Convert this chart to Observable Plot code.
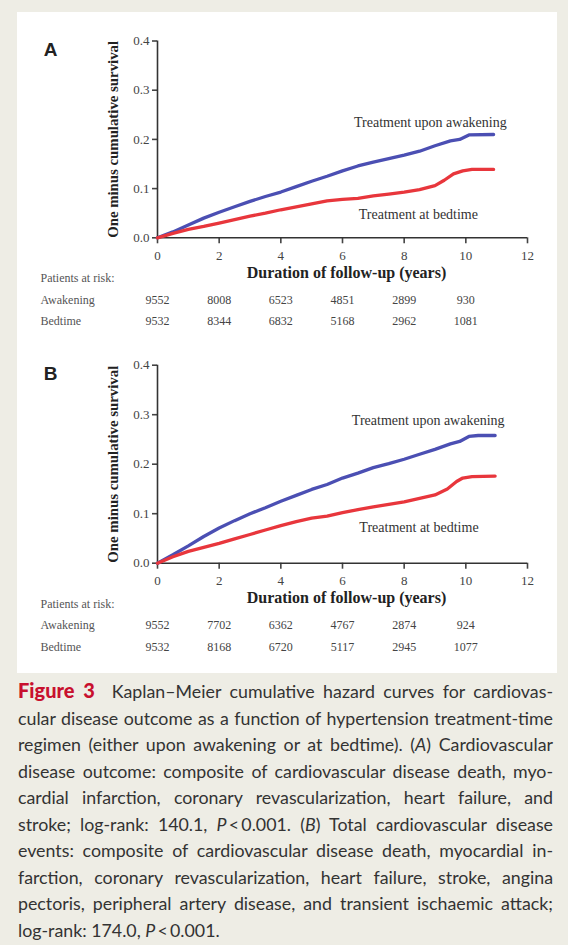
<!DOCTYPE html>
<html>
<head>
<meta charset="utf-8">
<script src="https://cdn.jsdelivr.net/npm/d3@7"></script>
<script src="https://cdn.jsdelivr.net/npm/@observablehq/plot@0.6"></script>
<style>
  html, body { margin: 0; padding: 0; }
  body { width: 568px; height: 945px; background: #eeede5; position: relative; overflow: hidden; }
  #panel { position: absolute; left: 17px; top: 12px; width: 540px; height: 661px; background: #ffffff; }
  .plot { position: absolute; left: 0; }
  #caption { position: absolute; left: 18px; top: 677px; width: 535px; font-family: Lato, "Open Sans", sans-serif; font-size: 17.8px; line-height: 26.5px; color: #333; }
  #caption div { text-align: justify; text-align-last: justify; }
  #caption div.last { text-align-last: left; }
  #caption b { color: #c8102e; font-weight: 900; font-size: 20px; }
</style>
</head>
<body>
<div id="panel"></div>
<div id="plotA" class="plot" style="top:0px"></div>
<div id="plotB" class="plot" style="top:340px"></div>
<div id="caption">
  <div><b>Figure 3</b>&nbsp; Kaplan–Meier cumulative hazard curves for cardiovas-</div>
  <div>cular disease outcome as a function of hypertension treatment-time</div>
  <div>regimen (either upon awakening or at bedtime). (<i>A</i>) Cardiovascular</div>
  <div>disease outcome: composite of cardiovascular disease death, myo-</div>
  <div>cardial infarction, coronary revascularization, heart failure, and</div>
  <div>stroke; log-rank: 140.1, <i>P</i>&thinsp;&lt;&thinsp;0.001. (<i>B</i>) Total cardiovascular disease</div>
  <div>events: composite of cardiovascular disease death, myocardial in-</div>
  <div>farction, coronary revascularization, heart failure, stroke, angina</div>
  <div>pectoris, peripheral artery disease, and transient ischaemic attack;</div>
  <div class="last">log-rank: 174.0, <i>P</i>&thinsp;&lt;&thinsp;0.001.</div>
</div>
<script>
// ---------- Data ----------
const xTicks = [0, 2, 4, 6, 8, 10, 12];
const yTicks = [0, 0.1, 0.2, 0.3, 0.4];
const xTitle = "Duration of follow-up (years)";
const yTitle = "One minus cumulative survival";
const seriesNames = ["Treatment upon awakening", "Treatment at bedtime"];
const riskHeader = "Patients at risk:";
const riskRowNames = ["Awakening", "Bedtime"];
const riskTimes = [0, 2, 4, 6, 8, 10];

// Panel A
const tA_awake = [0,0.5,1,1.5,2,2.5,3,3.5,4,4.5,5,5.5,6,6.5,7,7.5,8,8.5,9,9.5,9.8,10.1,10.9];
const yA_awake = [0,0.012,0.026,0.040,0.052,0.063,0.074,0.084,0.093,0.104,0.115,0.125,0.136,0.146,0.154,0.161,0.168,0.176,0.187,0.197,0.200,0.209,0.210];
const tA_bed = [0,0.5,1,1.5,2,2.5,3,3.5,4,4.5,5,5.5,6,6.5,7,7.5,8,8.5,9,9.3,9.6,9.9,10.2,10.9];
const yA_bed = [0,0.009,0.017,0.023,0.030,0.037,0.044,0.050,0.057,0.063,0.069,0.075,0.078,0.080,0.085,0.089,0.093,0.098,0.106,0.117,0.130,0.136,0.139,0.139];
const riskA_awake = [9552, 8008, 6523, 4851, 2899, 930];
const riskA_bed = [9532, 8344, 6832, 5168, 2962, 1081];
const labelPosA = [[8.85, 0.235], [8.46, 0.047]];

// Panel B
const tB_awake = [0,0.5,1,1.5,2,2.5,3,3.5,4,4.5,5,5.5,6,6.5,7,7.5,8,8.5,9,9.5,9.8,10.1,10.4,10.95];
const yB_awake = [0,0.017,0.035,0.054,0.071,0.086,0.100,0.112,0.125,0.137,0.149,0.159,0.172,0.182,0.193,0.201,0.210,0.220,0.230,0.241,0.246,0.256,0.258,0.258];
const tB_bed = [0,0.5,1,1.5,2,2.5,3,3.5,4,4.5,5,5.5,6,6.5,7,7.5,8,8.5,9,9.4,9.7,9.9,10.2,10.95];
const yB_bed = [0,0.013,0.024,0.032,0.040,0.049,0.058,0.067,0.076,0.084,0.091,0.095,0.102,0.108,0.114,0.119,0.124,0.131,0.138,0.150,0.165,0.172,0.175,0.176];
const riskB_awake = [9552, 7702, 6362, 4767, 2874, 924];
const riskB_bed = [9532, 8168, 6720, 5117, 2945, 1077];
const labelPosB = [[8.78, 0.288], [8.48, 0.073]];

// ---------- Chart ----------
const BLUE = "#4b4fb3";
const RED = "#e8363c";
const SERIF = "'Liberation Serif', 'Times New Roman', serif";
const SANS = "'Liberation Sans', Arial, sans-serif";

function zip(t, y) { return t.map((x, i) => ({x, y: y[i]})); }

function panel({letter, awake, bed, riskAwake, riskBed, labelPos, height, marginTop, marginBottom, marginLeft}) {
  const frameLeft = marginLeft;
  const labels = seriesNames.map((s, i) => ({text: s, x: labelPos[i][0], y: labelPos[i][1]}));
  return Plot.plot({
    width: 568,
    height,
    marginTop,
    marginBottom,
    marginLeft,
    marginRight: 41,
    style: {background: "transparent", color: "#333", fontFamily: SERIF, fontSize: "12px", overflow: "visible"},
    x: {domain: [0, 12]},
    y: {domain: [0, 0.4]},
    marks: [
      Plot.axisX({ticks: xTicks, tickSize: 6, tickPadding: 7, tickFormat: d => String(d), fontSize: 13, fontFamily: SERIF, strokeWidth: 1.6, label: null, color: "#444"}),
      Plot.axisY({ticks: yTicks, tickSize: 5, tickPadding: 3, tickFormat: d3.format(".1f"), fontSize: 13, fontFamily: SERIF, strokeWidth: 1.6, label: null, color: "#444"}),
      Plot.ruleY([0], {stroke: "#333", strokeWidth: 1.6}),
      Plot.ruleX([0], {stroke: "#333", strokeWidth: 1.6}),
      Plot.line(awake, {x: "x", y: "y", stroke: BLUE, strokeWidth: 3.3, strokeLinejoin: "round"}),
      Plot.line(bed, {x: "x", y: "y", stroke: RED, strokeWidth: 3.3, strokeLinejoin: "round"}),
      Plot.text(labels, {x: "x", y: "y", text: "text", fontSize: 14, fill: "#333", fontFamily: SERIF}),
      // axis titles
      Plot.text([xTitle], {frameAnchor: "bottom", dx: 4, dy: 40, fontWeight: "bold", fontSize: 16, fill: "#222", fontFamily: SERIF}),
      Plot.text([yTitle], {frameAnchor: "left", textAnchor: "middle", dx: -44, rotate: -90, fontWeight: "bold", fontSize: 14.8, fill: "#222", fontFamily: SERIF}),
      // panel letter
      Plot.text([letter], {frameAnchor: "top-left", textAnchor: "middle", dx: 50 - frameLeft, dy: 1, fontWeight: "bold", fontSize: 19, fill: "#222", fontFamily: SANS}),
      // risk table
      Plot.text([riskHeader], {frameAnchor: "bottom-left", textAnchor: "start", dx: 40 - frameLeft, dy: 44.5, fontSize: 12, fill: "#555", fontFamily: SERIF}),
      Plot.text([riskRowNames[0]], {frameAnchor: "bottom-left", textAnchor: "start", dx: 40 - frameLeft, dy: 66, fontSize: 12, fill: "#555", fontFamily: SERIF}),
      Plot.text([riskRowNames[1]], {frameAnchor: "bottom-left", textAnchor: "start", dx: 40 - frameLeft, dy: 87.5, fontSize: 12, fill: "#555", fontFamily: SERIF}),
      Plot.text(riskTimes, {x: d => d, text: (d, i) => String(riskAwake[i]), frameAnchor: "bottom", dy: 66, fontSize: 12, fill: "#444", fontFamily: SERIF}),
      Plot.text(riskTimes, {x: d => d, text: (d, i) => String(riskBed[i]), frameAnchor: "bottom", dy: 87.5, fontSize: 12, fill: "#444", fontFamily: SERIF})
    ]
  });
}

document.getElementById("plotA").append(panel({
  letter: "A",
  awake: zip(tA_awake, yA_awake), bed: zip(tA_bed, yA_bed),
  riskAwake: riskA_awake, riskBed: riskA_bed, labelPos: labelPosA,
  height: 340, marginTop: 40.5, marginBottom: 102.7, marginLeft: 157
}));
document.getElementById("plotB").append(panel({
  letter: "B",
  awake: zip(tB_awake, yB_awake), bed: zip(tB_bed, yB_bed),
  riskAwake: riskB_awake, riskBed: riskB_bed, labelPos: labelPosB,
  height: 340, marginTop: 24.7, marginBottom: 117.3, marginLeft: 157
}));
</script>
</body>
</html>
